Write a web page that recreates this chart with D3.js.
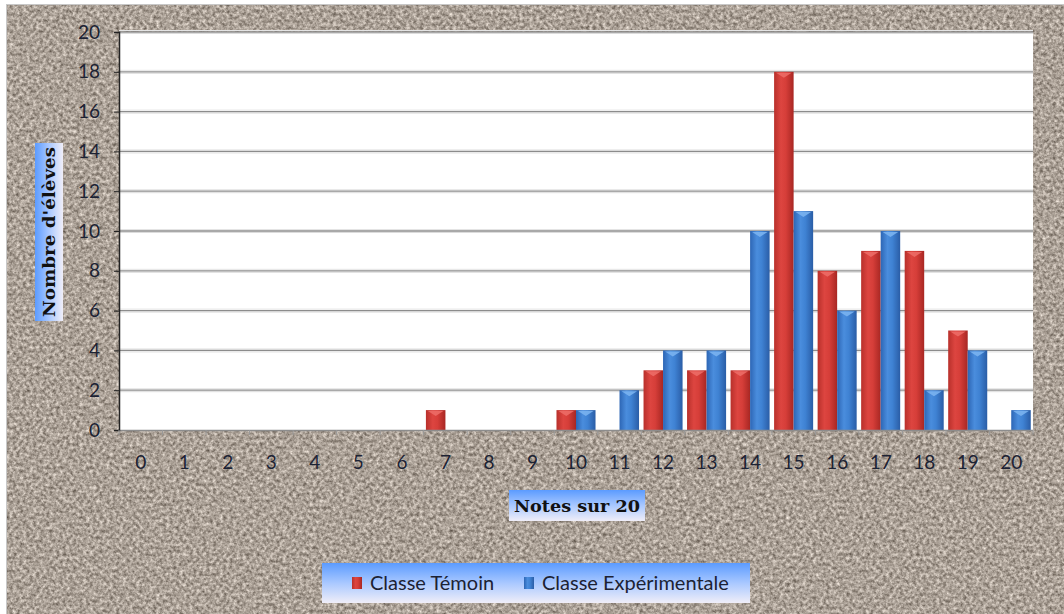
<!DOCTYPE html>
<html><head><meta charset="utf-8">
<script src="https://cdn.jsdelivr.net/npm/d3@7"></script>
<style>html,body{margin:0;padding:0;background:#fff;overflow:hidden}</style>
</head><body>
<script>
const categories = ["0","1","2","3","4","5","6","7","8","9","10","11","12","13","14","15","16","17","18","19","20"];
const temoin =       [0,0,0,0,0,0,0,1,0,0,1,0,3,3,3,18,8,9,9,5,0];
const experimentale =[0,0,0,0,0,0,0,0,0,0,1,2,4,4,10,11,6,10,2,4,1];
const seriesNames = ["Classe Témoin","Classe Expérimentale"];
const yTicks = [0,2,4,6,8,10,12,14,16,18,20];

(function(){
const W=1064,H=614;
const svg=d3.select("body").append("svg").attr("width",W).attr("height",H);
const defs=svg.append("defs");

const f=defs.append("filter").attr("id","granite").attr("x",0).attr("y",0).attr("width","100%").attr("height","100%")
  .attr("color-interpolation-filters","sRGB");
f.append("feTurbulence").attr("type","fractalNoise").attr("baseFrequency","0.3").attr("numOctaves",4).attr("seed",7).attr("result","n");
f.append("feColorMatrix").attr("in","n").attr("type","matrix")
 .attr("values","0.7 0 0 0 0.32  0.7 0 0 0 0.28  0.7 0 0 0 0.24  0 0 0 0 1");

function grad(id,stops,x2,y2){
  const g=defs.append("linearGradient").attr("id",id).attr("x1",0).attr("y1",0).attr("x2",x2).attr("y2",y2);
  stops.forEach(s=>g.append("stop").attr("offset",s[0]).attr("stop-color",s[1]));
}
grad("redG",[[0,"#b8302b"],[0.35,"#dd4540"],[0.6,"#d63e39"],[1,"#a82723"]],1,0);
grad("blueG",[[0,"#2d66b5"],[0.35,"#4a8ddd"],[0.6,"#3f82d3"],[1,"#2a5da6"]],1,0);
grad("boxV",[[0,"#5b9bff"],[0.5,"#a9c8ff"],[1,"#f0eef8"]],0,1);
grad("boxH",[[0,"#5b9bff"],[0.5,"#a9c8ff"],[1,"#f0eef8"]],1,0);

svg.append("rect").attr("x",0).attr("y",0).attr("width",W).attr("height",H).attr("fill","#fff");
svg.append("rect").attr("x",7).attr("y",5).attr("width",W-7).attr("height",H-5).attr("fill","#aa9e93").attr("filter","url(#granite)");
svg.append("rect").attr("x",6.5).attr("y",4.5).attr("width",W-6).attr("height",H-4).attr("fill","none").attr("stroke","#c8c8c8").attr("stroke-width",1);

const pL=119,pR=1033,pT=32,pB=430;
svg.append("rect").attr("x",pL).attr("y",pT).attr("width",pR-pL).attr("height",pB-pT).attr("fill","#fff");

const x=d3.scaleBand().domain(categories).range([pL,pR]).padding(0);
const xs=d3.scaleBand().domain(seriesNames).range([0,x.bandwidth()]).paddingInner(0).paddingOuter(0.115);
const y=d3.scaleLinear().domain([0,20]).range([pB,pT]);

const grid=svg.append("g");
yTicks.filter(t=>t>0).forEach(t=>{
  grid.append("line").attr("x1",pL).attr("x2",pR).attr("y1",y(t)+1.5).attr("y2",y(t)+1.5).attr("stroke","#dcdcdc").attr("stroke-width",1);
  grid.append("line").attr("x1",pL).attr("x2",pR).attr("y1",y(t)-1.5).attr("y2",y(t)-1.5).attr("stroke","#e4e4e4").attr("stroke-width",1);
  grid.append("line").attr("x1",pL).attr("x2",pR).attr("y1",y(t)).attr("y2",y(t)).attr("stroke","#8c8c8c").attr("stroke-width",1.3);
});

const data=categories.map((c,i)=>({c,vals:[{s:seriesNames[0],v:temoin[i]},{s:seriesNames[1],v:experimentale[i]}]}));
const gBars=svg.append("g");
data.forEach(d=>{
  d.vals.forEach(v=>{
    if(v.v<=0) return;
    const bx=x(d.c)+xs(v.s), bw=xs.bandwidth(), by=y(v.v), bh=pB-y(v.v);
    const isRed=v.s===seriesNames[0];
    gBars.append("rect").attr("x",bx).attr("y",by).attr("width",bw).attr("height",bh)
      .attr("fill",isRed?"url(#redG)":"url(#blueG)");
    gBars.append("path").attr("d",`M${bx+2},${by+1}L${bx+bw-2},${by+1}L${bx+bw/2},${by+6}Z`)
      .attr("fill",isRed?"#ec6b66":"#7ab3f0").attr("opacity",0.9);
  });
});

svg.append("line").attr("x1",pL).attr("x2",pR).attr("y1",pB+0.5).attr("y2",pB+0.5).attr("stroke","#8c8c8c").attr("stroke-width",1.3);
const yAx=d3.axisLeft(y).tickValues(yTicks).tickSize(5).tickPadding(14);
const gy=svg.append("g").attr("transform",`translate(${pL},0)`).call(yAx);
gy.select(".domain").attr("stroke","#222").attr("stroke-width",1.5);
gy.selectAll(".tick line").attr("stroke","#222");
gy.selectAll("text").attr("font-family","Lato, 'Liberation Sans', sans-serif").attr("font-size",19).attr("fill","#1c2233");

const xAx=d3.axisBottom(x).tickSize(0).tickPadding(26);
const gx=svg.append("g").attr("transform",`translate(0,${pB})`).call(xAx);
gx.select(".domain").remove();
gx.selectAll("text").attr("font-family","Lato, 'Liberation Sans', sans-serif").attr("font-size",19).attr("fill","#1c2233");
categories.forEach(c=>{
  svg.append("line").attr("x1",x(c)).attr("x2",x(c)).attr("y1",pB).attr("y2",pB+5).attr("stroke","#999");
});
svg.append("line").attr("x1",pR).attr("x2",pR).attr("y1",pB).attr("y2",pB+5).attr("stroke","#999");

svg.append("rect").attr("x",35).attr("y",143).attr("width",28).attr("height",178).attr("fill","url(#boxH)");
svg.append("text").attr("transform","translate(55,232) rotate(-90)").attr("text-anchor","middle")
  .attr("font-family","'DejaVu Serif', 'Liberation Serif', serif").attr("font-weight","bold").attr("font-size",16).attr("fill","#111")
  .attr("textLength",170).attr("lengthAdjust","spacingAndGlyphs")
  .text("Nombre d'élèves");

svg.append("rect").attr("x",509).attr("y",490).attr("width",136).attr("height",31).attr("fill","url(#boxV)");
svg.append("text").attr("x",577).attr("y",512).attr("text-anchor","middle")
  .attr("font-family","'DejaVu Serif', 'Liberation Serif', serif").attr("font-weight","bold").attr("font-size",17).attr("fill","#111")
  .attr("textLength",126).attr("lengthAdjust","spacingAndGlyphs")
  .text("Notes sur 20");

svg.append("rect").attr("x",322).attr("y",563).attr("width",428).attr("height",40).attr("fill","url(#boxV)");
const leg=svg.append("g");
const legX=[352,524];
seriesNames.forEach((s,i)=>{
  leg.append("rect").attr("x",legX[i]).attr("y",577).attr("width",10).attr("height",12).attr("fill",i===0?"url(#redG)":"url(#blueG)");
  leg.append("text").attr("x",legX[i]+18).attr("y",590).attr("font-family","Lato, 'Liberation Sans', sans-serif")
    .attr("font-size",20).attr("fill","#1c2233").text(s);
});
})();
</script>
</body></html>
